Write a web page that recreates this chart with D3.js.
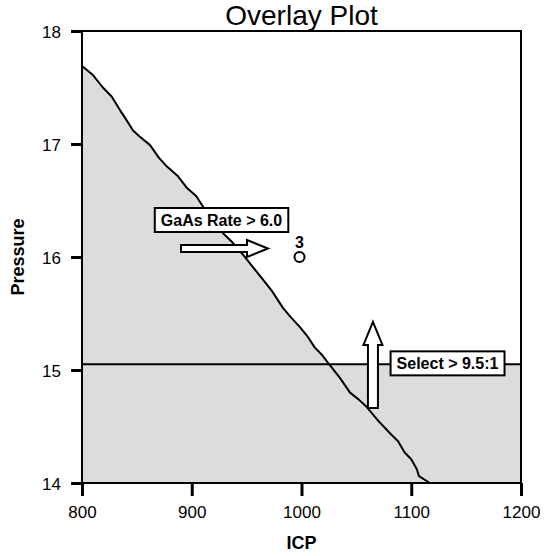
<!DOCTYPE html>
<html>
<head>
<meta charset="utf-8">
<script src="https://cdn.jsdelivr.net/npm/d3@7"></script>
<style>
  body { margin: 0; background: #fff; }
  svg { font-family: Arial, "Liberation Sans", sans-serif; }
</style>
</head>
<body>
<div id="chart"></div>
<script>
// contour of GaAs Rate = 6.0 (ICP, Pressure)
var contourIcp = [800, 810, 819, 827, 834.6, 840, 846.5, 852, 862, 870, 877.4, 887, 895.7, 904, 912, 920, 928.5, 937, 946.7, 955, 964.9, 973, 983.1, 990, 998.6, 1006, 1012, 1019, 1026, 1035, 1044.2, 1052, 1059.7, 1070, 1080.6, 1088, 1094, 1100, 1105.2, 1107, 1117];
var contourP   = [17.69, 17.61, 17.5, 17.42, 17.3, 17.22, 17.12, 17.07, 16.99, 16.88, 16.8, 16.72, 16.61, 16.54, 16.42, 16.33, 16.21, 16.13, 16.02, 15.92, 15.8, 15.7, 15.55, 15.47, 15.38, 15.29, 15.2, 15.13, 15.04, 14.93, 14.8, 14.74, 14.67, 14.55, 14.44, 14.37, 14.27, 14.21, 14.12, 14.06, 14.0];
var selectLimit = 15.05;          // Select > 9.5:1 contour (pressure)
var pointIcp = [1000];
var pointP = [16.0];
var pointLabel = ['3'];
var xTicks = [800, 900, 1000, 1100, 1200];
var yTicks = [14, 15, 16, 17, 18];

var width = 546, height = 556;
var margin = {left: 82, right: 25, top: 31, bottom: 73};

var svg = d3.select('#chart').append('svg').attr('width', width).attr('height', height);

var x = d3.scaleLinear().domain([800, 1200]).range([margin.left, width - margin.right]);
var y = d3.scaleLinear().domain([14, 18]).range([height - margin.bottom, margin.top]);

var curve = contourIcp.map(function (d, i) { return [d, contourP[i]]; });

// find where the contour crosses the select limit
var cross = 1026;
for (var i = 1; i < curve.length; i++) {
  if (curve[i - 1][1] >= selectLimit && curve[i][1] <= selectLimit) {
    var t = (curve[i - 1][1] - selectLimit) / (curve[i - 1][1] - curve[i][1]);
    cross = curve[i - 1][0] + t * (curve[i][0] - curve[i - 1][0]);
  }
}

// shaded (infeasible) region
var shade = [];
curve.forEach(function (p) { if (p[1] >= selectLimit) shade.push(p); });
shade.push([cross, selectLimit]);
shade.push([1200, selectLimit]);
shade.push([1200, 14]);
shade.push([800, 14]);
shade.push([800, curve[0][1]]);

var line = d3.line().x(function (d) { return x(d[0]); }).y(function (d) { return y(d[1]); });

svg.append('path').attr('d', line(shade) + 'Z').attr('fill', '#dcdcdc').attr('stroke', 'none');

svg.append('path').attr('d', line(curve)).attr('fill', 'none')
  .attr('stroke', '#000').attr('stroke-width', 2).attr('stroke-linejoin', 'round');

svg.append('line')
  .attr('x1', x(800)).attr('x2', x(1200)).attr('y1', y(selectLimit)).attr('y2', y(selectLimit))
  .attr('stroke', '#000').attr('stroke-width', 2);

// frame
svg.append('rect')
  .attr('x', x(800)).attr('y', y(18)).attr('width', x(1200) - x(800)).attr('height', y(14) - y(18))
  .attr('fill', 'none').attr('stroke', '#000').attr('stroke-width', 2);

// axes
var xAxis = svg.append('g').attr('transform', 'translate(0,' + y(14) + ')')
  .call(d3.axisBottom(x).tickValues(xTicks).tickSize(13).tickPadding(10).tickFormat(d3.format('d')));
var yAxis = svg.append('g').attr('transform', 'translate(' + x(800) + ',0)')
  .call(d3.axisLeft(y).tickValues(yTicks).tickSize(11).tickPadding(10).tickFormat(d3.format('d')));
[xAxis, yAxis].forEach(function (g) {
  g.select('.domain').remove();
  g.selectAll('.tick line').attr('stroke', '#000').attr('stroke-width', 3);
  g.selectAll('.tick text').attr('fill', '#000').style('font-size', '17px')
    .style('font-family', 'Arial, "Liberation Sans", sans-serif');
});
yAxis.selectAll('.tick text').attr('dy', '0.36em');

// titles
svg.append('text').attr('x', x(1000)).attr('y', 25).attr('text-anchor', 'middle')
  .style('font-size', '28px').text('Overlay Plot');
svg.append('text').attr('x', x(1000)).attr('y', 549).attr('text-anchor', 'middle')
  .style('font-size', '18px').style('font-weight', 'bold').text('ICP');
svg.append('text').attr('transform', 'translate(24,' + y(16) + ') rotate(-90)').attr('text-anchor', 'middle')
  .style('font-size', '18px').style('font-weight', 'bold').text('Pressure');

// design point
svg.selectAll('circle.pt').data(pointIcp).enter().append('circle').attr('class', 'pt')
  .attr('cx', function (d) { return x(d) - 2; }).attr('cy', function (d, i) { return y(pointP[i]); })
  .attr('r', 5).attr('fill', '#fff').attr('stroke', '#000').attr('stroke-width', 2);
svg.selectAll('text.pt').data(pointLabel).enter().append('text').attr('class', 'pt')
  .attr('x', function (d, i) { return x(pointIcp[i]) - 2; }).attr('y', function (d, i) { return y(pointP[i]) - 9; })
  .attr('text-anchor', 'middle').style('font-size', '16px').style('font-weight', 'bold').text(function (d) { return d; });

// horizontal arrow (GaAs Rate)
var ax0 = x(890.2), ax1 = x(969.5), ay = y(16.075);
svg.append('path')
  .attr('d', 'M' + ax0 + ',' + (ay - 3.5) + 'H' + (ax1 - 21) + 'V' + (ay - 8.5) + 'L' + ax1 + ',' + ay +
    'L' + (ax1 - 21) + ',' + (ay + 8.5) + 'V' + (ay + 3.5) + 'H' + ax0 + 'Z')
  .attr('fill', '#fff').attr('stroke', '#000').attr('stroke-width', 2).attr('stroke-linejoin', 'miter');

// vertical arrow (Select)
var vx = x(1065.1), vy0 = y(14.664), vy1 = y(15.425);
svg.append('path')
  .attr('d', 'M' + (vx - 5) + ',' + vy0 + 'V' + (vy1 + 23) + 'H' + (vx - 9.5) + 'L' + vx + ',' + vy1 +
    'L' + (vx + 9.5) + ',' + (vy1 + 23) + 'H' + (vx + 5) + 'V' + vy0 + 'Z')
  .attr('fill', '#fff').attr('stroke', '#000').attr('stroke-width', 2).attr('stroke-linejoin', 'miter');

// label boxes
function labelBox(cx, cy, txt) {
  var g = svg.append('g');
  var t = g.append('text').attr('x', cx).attr('y', cy).attr('dy', '0.36em').attr('text-anchor', 'middle')
    .style('font-size', '16px').style('font-weight', 'bold').text(txt);
  var bb = t.node().getBBox();
  g.insert('rect', 'text')
    .attr('x', bb.x - 6).attr('y', cy - 12).attr('width', bb.width + 12).attr('height', 24)
    .attr('fill', '#fff').attr('stroke', '#000').attr('stroke-width', 2);
}
labelBox(221.5, 220, 'GaAs Rate > 6.0');
labelBox(447.5, y(selectLimit) - 1, 'Select > 9.5:1');
</script>
</body>
</html>
